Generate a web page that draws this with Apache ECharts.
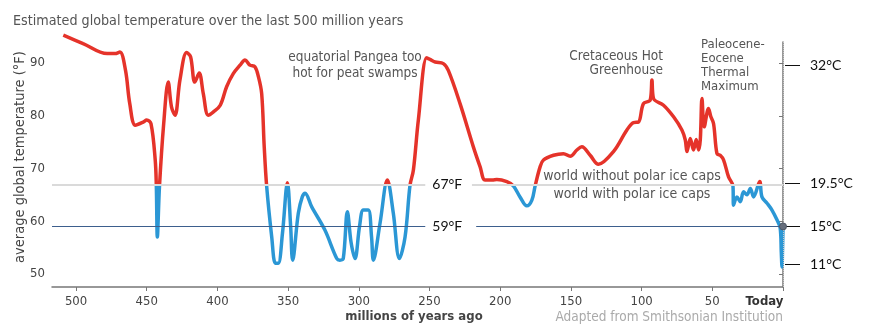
<!DOCTYPE html>
<html>
<head>
<meta charset="utf-8">
<script src="https://cdn.jsdelivr.net/npm/echarts@6/dist/echarts.min.js"></script>
<style>
html,body{margin:0;padding:0;background:#fff;}
#chart{width:872px;height:333px;}
</style>
</head>
<body>
<div id="chart"></div>
<script>
// ---- data (millions of years ago, average global temperature °F) ----
const ages = [509, 495, 478, 472.5, 469, 465, 462, 458, 452.5, 450, 447, 444, 443.2, 442.5, 441, 438, 434.8, 432.5, 430, 426.5,
  421.8, 419, 416, 412.9, 410, 406.5, 403, 398, 393.5, 388.8, 384, 380.5, 377, 373.5, 371, 368.7, 366.9, 365.2, 361.6, 359,
  357, 354, 350.5, 348.2, 346.8, 342.8, 340, 338, 333.3, 324, 315.6, 313.4, 311, 308.1, 305.5, 302.7, 299.5, 296.8, 293.3, 291,
  289.7, 285, 279.8, 275.6, 271.3, 267.3, 263.8, 261.4, 257.9, 252, 249.6, 246, 240.2, 236.7, 228.4, 219, 214.2, 210.7, 205.5, 202.4,
  195.3, 190.7, 186, 181.2, 177.6, 175.3, 171.8, 169.4, 162.3, 155.3, 150.5, 145.8, 142.3, 136.4, 130.5, 119.9, 110.4, 105.7, 102.2, 98.7,
  93.9, 92.7, 91.6, 84.5, 77.4, 71.5, 69.1, 67.9, 65.6, 63.3, 61.4, 59.7, 58.5, 57.3, 55.7, 52.7, 51, 49.1, 46.7, 44.4,
  42, 38.5, 35.4, 35, 32.6, 30.2, 27.9, 25.5, 23.1, 20.8, 16.5, 14.9, 11.3, 7.8, 4.2, 2.0, 1.2, 0.7, 0.35, 0];
const tempsF = [95.3, 93.7, 91.8, 91.8, 92.1, 88.6, 82.3, 78.2, 78.8, 79.2, 78.5, 71.6, 66.5, 57.0, 66.5, 78.5, 86.4, 81.7, 80.1, 86.8,
  92.0, 91.2, 86.4, 88.1, 84.2, 80.1, 80.7, 82.0, 85.5, 88.0, 89.6, 90.6, 89.6, 89.3, 87.4, 84.2, 74.1, 66.7, 57.0, 52.0,
  52.0, 57.7, 67.3, 58.9, 52.6, 61.5, 64.6, 65.3, 62.7, 58.3, 52.9, 52.6, 52.9, 61.8, 56.0, 52.9, 59.0, 62.1, 62.1, 57.0,
  52.6, 59.6, 67.8, 61.5, 52.9, 57.0, 66.8, 69.7, 79.2, 91.0, 90.7, 90.2, 89.9, 88.6, 82.3, 74.1, 70.3, 67.8, 67.8, 67.9,
  67.5, 66.7, 64.6, 62.9, 64.0, 66.7, 70.3, 71.6, 72.5, 72.8, 72.3, 73.5, 74.1, 72.5, 70.8, 73.2, 77.3, 78.7, 78.8, 82.3,
  83.0, 86.8, 83.3, 82.0, 79.8, 77.3, 75.4, 73.2, 75.7, 73.5, 75.5, 73.5, 75.4, 83.3, 77.9, 81.4, 79.8, 78.5, 72.8, 72.5,
  71.6, 68.4, 66.7, 63.0, 64.6, 63.7, 65.6, 65.0, 66.2, 64.6, 67.5, 64.6, 63.4, 62.1, 60.2, 58.7, 54.0, 51.3, 54.5, 58.8];
const yTicksF = [50, 60, 70, 80, 90];
const celsiusMarks = [11, 15, 19.5, 32];
const iceCapF = 67;       // world without / with polar ice caps
const todayF = 59;        // today's average
const todayPoint = [0, 59];
const xTickStep = 50;

const FONT = '"DejaVu Sans Condensed", "DejaVu Sans", sans-serif';
const FONT2 = 'Lato, "Liberation Sans", sans-serif';
const RED = '#e5332a';
const BLUE = '#2b97d5';

const seriesData = ages.map((a, i) => [a, tempsF[i]]);
const cToF = c => c * 9 / 5 + 32;
const celsiusAsF = celsiusMarks.map(cToF);

const chart = echarts.init(document.getElementById('chart'), null, {renderer: 'canvas'});

const txt = (text, x, y, align, size, extra) => ({
  type: 'text', silent: true,
  style: Object.assign({text, x, y, textAlign: align, textVerticalAlign: 'middle', font: (size || 13.5) + 'px ' + FONT, fill: '#555'}, extra || {})
});

const refLabel = t => ({show: true, position: 'end', distance: 7, formatter: t, color: '#111', fontSize: 14, fontFamily: FONT2});

const option = {
  animation: false,
  title: {
    text: 'Estimated global temperature over the last 500 million years',
    left: 8, top: 9,
    textStyle: {fontFamily: FONT, fontSize: 14.2, fontWeight: 'normal', color: '#555'}
  },
  grid: {left: 52, right: 89, top: 42, bottom: 46},
  xAxis: {
    type: 'value', inverse: true, min: 0, max: 517, interval: xTickStep,
    splitLine: {show: false},
    axisLine: {lineStyle: {color: '#777', width: 1.5}},
    axisTick: {length: 4, lineStyle: {color: '#777'}},
    axisLabel: {
      showMaxLabel: false, margin: 8, color: '#444', fontSize: 13, fontFamily: FONT,
      formatter: v => v === 0 ? '{b|Today}' : (v % xTickStep === 0 ? String(v) : ''),
      rich: {b: {fontWeight: 'bold', color: '#333', fontSize: 13, fontFamily: FONT, padding: [0, 37, 0, 0]}}
    }
  },
  yAxis: [{
    type: 'value', min: 47.5, max: 94,
    splitLine: {show: false},
    axisLine: {show: true, lineStyle: {color: '#777', width: 1.5}},
    axisTick: {show: true, length: 4, customValues: yTicksF, lineStyle: {color: '#777'}},
    axisLabel: {customValues: yTicksF, margin: 7, color: '#444', fontSize: 13, fontFamily: FONT}
  }, {
    type: 'value', min: 47.5, max: 94, position: 'right', offset: 2,
    splitLine: {show: false},
    axisLine: {show: false},
    axisTick: {show: true, length: 15, customValues: celsiusAsF, lineStyle: {color: '#111', width: 1}},
    axisLabel: {
      customValues: celsiusAsF, margin: 25, color: '#111', fontSize: 14, fontFamily: FONT2,
      formatter: v => (Math.round((v - 32) * 5 / 9 * 10) / 10) + '°C'
    }
  }],
  graphic: [
    {type: 'text', silent: true, x: 20, y: 157, rotation: Math.PI / 2,
      style: {text: 'average global temperature (°F)', x: 0, y: 0, textAlign: 'center', textVerticalAlign: 'middle',
        font: '14.5px ' + FONT, fill: '#444'}},
    txt('equatorial Pangea too', 355, 57, 'center'),
    txt('hot for peat swamps', 355, 73, 'center'),
    txt('Cretaceous Hot', 663, 56, 'right'),
    txt('Greenhouse', 663, 70, 'right'),
    txt('Paleocene-', 701, 45, 'left', 13),
    txt('Eocene', 701, 59, 'left', 13),
    txt('Thermal', 701, 73, 'left', 13),
    txt('Maximum', 701, 87, 'left', 13),
    txt('world without polar ice caps', 632, 176, 'center', 14),
    txt('world with polar ice caps', 632, 194, 'center', 14),
    {type: 'text', silent: true, style: {text: 'millions of years ago', x: 414, y: 317,
      textAlign: 'center', textVerticalAlign: 'middle', font: 'bold 13px ' + FONT, fill: '#444'}},
    {type: 'text', silent: true, style: {text: 'Adapted from Smithsonian Institution', x: 783, y: 317,
      textAlign: 'right', textVerticalAlign: 'middle', font: '13.5px ' + FONT, fill: '#aaa'}}
  ],
  series: [{
    type: 'line', data: seriesData, smooth: 0.35, showSymbol: false, clip: false, z: 3,
    lineStyle: {width: 3.5, color: RED}
  }, {
    type: 'line', data: [], z: 1, silent: true,
    markLine: {
      silent: true, symbol: 'none', animation: false,
      data: [
        [{coord: [517, iceCapF], lineStyle: {color: '#dadada', width: 2, type: 'solid'}, label: refLabel('67°F')}, {coord: [253, iceCapF]}],
        [{coord: [220, iceCapF], lineStyle: {color: '#dadada', width: 2, type: 'solid'}, label: {show: false}}, {coord: [0, iceCapF]}],
        [{coord: [517, todayF], lineStyle: {color: '#3d5f8d', width: 1, type: 'solid'}, label: refLabel('59°F')}, {coord: [253, todayF]}],
        [{coord: [217, todayF], lineStyle: {color: '#3d5f8d', width: 1, type: 'solid'}, label: {show: false}}, {coord: [0, todayF]}],
        [{coord: [0, 47.5], lineStyle: {color: '#c8c8c8', width: 1, type: 'dotted'}, label: {show: false}}, {coord: [0, 94]}]
      ]
    }
  }, {
    type: 'scatter', data: [todayPoint], z: 10, zlevel: 1, silent: true, clip: false,
    symbol: 'circle', symbolSize: 7,
    itemStyle: {color: '#666e7c', borderColor: '#4f5663', borderWidth: 1, opacity: 1}
  }]
};
chart.setOption(option);

// colour the curve red above the ice-cap threshold and blue below it, using the axis scale
const yThresh = chart.convertToPixel({yAxisIndex: 0}, iceCapF);
const H = chart.getHeight();
const f = yThresh / H;
chart.setOption({
  series: [{
    lineStyle: {
      color: new echarts.graphic.LinearGradient(0, 0, 0, H, [
        {offset: 0, color: RED}, {offset: f, color: RED},
        {offset: f, color: BLUE}, {offset: 1, color: BLUE}
      ], true)
    }
  }]
});
</script>
</body>
</html>
